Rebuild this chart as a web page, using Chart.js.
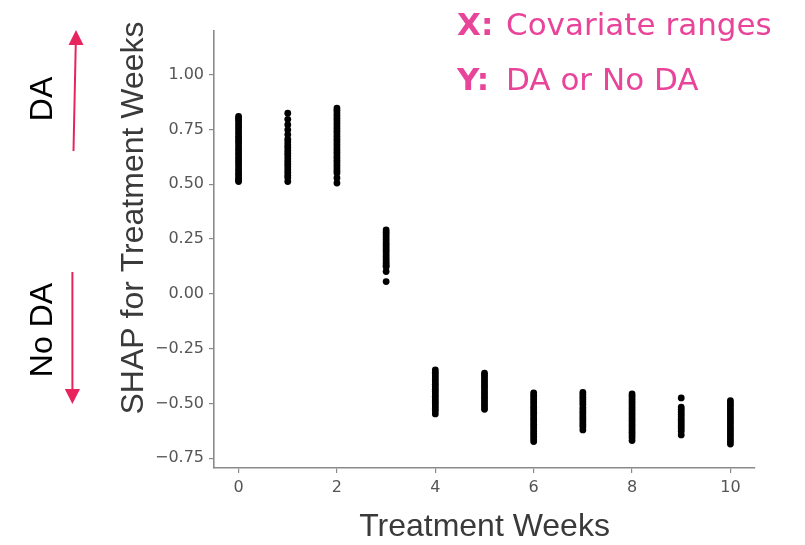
<!DOCTYPE html>
<html><head><meta charset="utf-8">
<script src="https://cdn.jsdelivr.net/npm/chart.js@4.4.1/dist/chart.umd.min.js"></script>
<style>html,body{margin:0;padding:0;background:#fff;overflow:hidden}canvas{display:block}</style>
</head><body>
<canvas id="c" width="805" height="545"></canvas>
<script>
// ---- data ----
const weeks = [0, 1, 2, 3, 4, 5, 6, 7, 8, 9, 10];
const shapWeek0 = [0.810, 0.801, 0.792, 0.780, 0.768, 0.757, 0.745, 0.733, 0.720, 0.708, 0.697, 0.685, 0.672, 0.660, 0.648, 0.636, 0.623, 0.611, 0.600, 0.588, 0.575, 0.563, 0.551, 0.540, 0.528, 0.519, 0.513];
const shapWeek1 = [0.825, 0.797, 0.772, 0.749, 0.727, 0.706, 0.693, 0.680, 0.668, 0.655, 0.642, 0.630, 0.617, 0.604, 0.592, 0.580, 0.567, 0.555, 0.542, 0.531, 0.513];
const shapWeek2 = [0.848, 0.838, 0.826, 0.814, 0.802, 0.790, 0.778, 0.766, 0.754, 0.742, 0.730, 0.718, 0.706, 0.694, 0.682, 0.670, 0.658, 0.646, 0.634, 0.622, 0.610, 0.598, 0.586, 0.574, 0.562, 0.552, 0.529, 0.506];
const shapWeek3 = [0.292, 0.281, 0.270, 0.259, 0.248, 0.237, 0.226, 0.215, 0.204, 0.193, 0.182, 0.171, 0.160, 0.150, 0.140, 0.130, 0.124, 0.102, 0.056];
const shapWeek4 = [-0.347, -0.358, -0.369, -0.380, -0.391, -0.402, -0.413, -0.424, -0.435, -0.446, -0.457, -0.468, -0.479, -0.490, -0.501, -0.512, -0.523, -0.534, -0.548];
const shapWeek5 = [-0.362, -0.373, -0.384, -0.395, -0.406, -0.417, -0.428, -0.439, -0.450, -0.461, -0.472, -0.483, -0.494, -0.505, -0.516, -0.527];
const shapWeek6 = [-0.452, -0.463, -0.474, -0.485, -0.496, -0.507, -0.518, -0.529, -0.540, -0.551, -0.562, -0.573, -0.584, -0.595, -0.606, -0.617, -0.628, -0.639, -0.650, -0.662, -0.674];
const shapWeek7 = [-0.450, -0.461, -0.472, -0.483, -0.494, -0.505, -0.519, -0.530, -0.541, -0.552, -0.563, -0.574, -0.585, -0.596, -0.607, -0.621];
const shapWeek8 = [-0.457, -0.468, -0.479, -0.490, -0.501, -0.512, -0.523, -0.534, -0.545, -0.556, -0.567, -0.578, -0.589, -0.600, -0.611, -0.622, -0.633, -0.644, -0.656, -0.670];
const shapWeek9 = [-0.475, -0.517, -0.528, -0.539, -0.550, -0.561, -0.572, -0.583, -0.594, -0.605, -0.616, -0.627, -0.644];
const shapWeek10 = [-0.487, -0.498, -0.509, -0.520, -0.531, -0.542, -0.553, -0.564, -0.575, -0.586, -0.597, -0.608, -0.619, -0.630, -0.641, -0.652, -0.663, -0.674, -0.686];
const shapByWeek = [shapWeek0, shapWeek1, shapWeek2, shapWeek3, shapWeek4, shapWeek5, shapWeek6, shapWeek7, shapWeek8, shapWeek9, shapWeek10];
const xTickValues = [0, 2, 4, 6, 8, 10];
const yTickValues = [-0.75, -0.5, -0.25, 0, 0.25, 0.5, 0.75, 1.0];
const xTitle = 'Treatment Weeks';
const yTitle = 'SHAP for Treatment Weeks';
const upLabel = 'DA';
const downLabel = 'No DA';
const noteX = ['X:', 'Covariate ranges'];
const noteY = ['Y:', 'DA or No DA'];

// ---- build points ----
const points = [];
weeks.forEach((w, i) => shapByWeek[i].forEach(v => points.push({x: w, y: v})));

const fmtY = v => (v < 0 ? '\u2212' : '') + Math.abs(v).toFixed(2);

const PINK = '#e8449a';
const RED = '#e8245e';

const annotations = {
  id: 'annotations',
  afterDraw(chart) {
    const ctx = chart.ctx;
    ctx.save();
    // y-axis title
    ctx.fillStyle = '#3a3a3a';
    ctx.font = '32px "Liberation Sans", Arial, sans-serif';
    ctx.textAlign = 'center';
    ctx.textBaseline = 'middle';
    ctx.save(); ctx.translate(134, 218); ctx.rotate(-Math.PI / 2); ctx.fillText(yTitle, 0, 0); ctx.restore();
    // DA / No DA labels
    ctx.fillStyle = '#000';
    ctx.save(); ctx.translate(43, 99); ctx.rotate(-Math.PI / 2); ctx.fillText(upLabel, 0, 0); ctx.restore();
    ctx.save(); ctx.translate(43, 330); ctx.rotate(-Math.PI / 2); ctx.fillText(downLabel, 0, 0); ctx.restore();
    // arrows
    ctx.strokeStyle = RED; ctx.fillStyle = RED; ctx.lineWidth = 2;
    ctx.beginPath(); ctx.moveTo(73.5, 151); ctx.lineTo(75.8, 42); ctx.stroke();
    ctx.beginPath(); ctx.moveTo(76, 30); ctx.lineTo(83.5, 45); ctx.lineTo(68.5, 45); ctx.closePath(); ctx.fill();
    ctx.beginPath(); ctx.moveTo(72.4, 272); ctx.lineTo(72.4, 392); ctx.stroke();
    ctx.beginPath(); ctx.moveTo(72.4, 404); ctx.lineTo(80, 389); ctx.lineTo(64.8, 389); ctx.closePath(); ctx.fill();
    // pink notes
    ctx.textAlign = 'left'; ctx.textBaseline = 'alphabetic';
    ctx.fillStyle = PINK;
    ctx.font = 'bold 31px "DejaVu Sans", Verdana, sans-serif';
    ctx.fillText(noteX[0], 457, 35);
    ctx.fillText(noteY[0], 457, 90);
    ctx.font = '31px "DejaVu Sans", Verdana, sans-serif';
    ctx.fillText(noteX[1], 506, 35);
    ctx.fillText(noteY[1], 506, 90);
    ctx.restore();
  }
};

new Chart(document.getElementById('c'), {
  type: 'scatter',
  data: {
    datasets: [{
      data: points,
      pointRadius: 3.4,
      pointHoverRadius: 3.4,
      pointBackgroundColor: '#000',
      pointBorderWidth: 0,
      showLine: false
    }]
  },
  options: {
    responsive: false,
    animation: false,
    devicePixelRatio: 1,
    layout: {padding: {left: 0, top: 31, right: 50, bottom: 0}},
    plugins: {legend: {display: false}, tooltip: {enabled: false}},
    scales: {
      x: {
        type: 'linear', min: -0.5, max: 10.5,
        afterBuildTicks: s => { s.ticks = xTickValues.map(v => ({value: v})); },
        afterFit: s => { s.height = 77; },
        grid: {display: true, drawOnChartArea: false, drawTicks: true, tickLength: 5, color: '#8a8a8a', lineWidth: 1.2},
        border: {display: true, color: '#8a8a8a', width: 1.6},
        ticks: {font: {family: 'DejaVu Sans', size: 16}, color: '#555', padding: 5, maxRotation: 0, callback: v => String(v)},
        title: {display: true, text: xTitle, color: '#3a3a3a', font: {family: 'Liberation Sans', size: 32, lineHeight: 1}, padding: {top: 0, bottom: 2}}
      },
      y: {
        type: 'linear', min: -0.795, max: 1.2,
        afterBuildTicks: s => { s.ticks = yTickValues.map(v => ({value: v})); },
        afterFit: s => { s.width = 214; },
        grid: {display: true, drawOnChartArea: false, drawTicks: true, tickLength: 5, color: '#8a8a8a', lineWidth: 1.2},
        border: {display: true, color: '#8a8a8a', width: 1.6},
        ticks: {font: {family: 'DejaVu Sans', size: 16}, color: '#555', padding: 5, callback: v => fmtY(v)}
      }
    }
  },
  plugins: [annotations]
});
</script>
</body></html>
